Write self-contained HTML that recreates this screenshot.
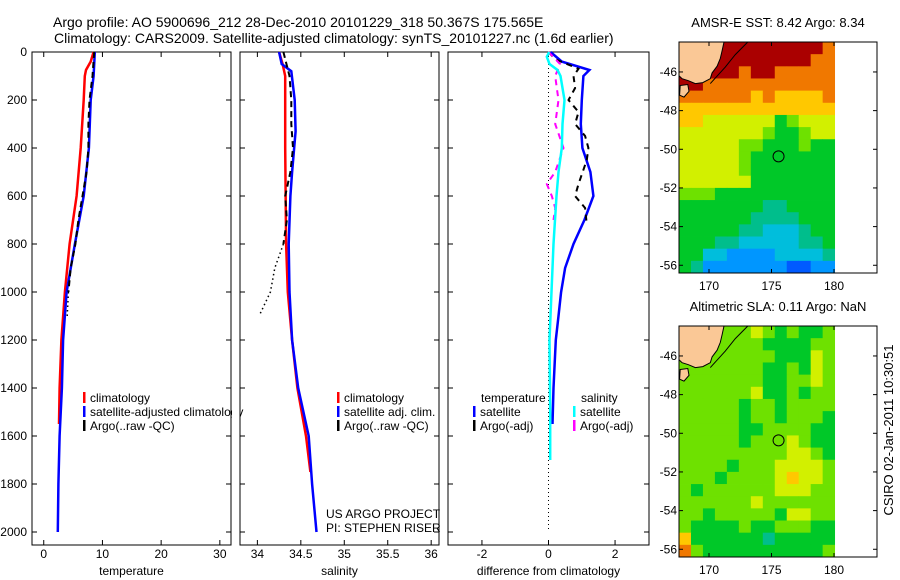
<!DOCTYPE html>
<html><head><meta charset="utf-8"><style>
html,body{margin:0;padding:0;background:#fff;}
svg{display:block;font-family:"Liberation Sans",sans-serif;}
text{fill:#000;}
</style></head><body>
<svg id="fig" width="900" height="580" viewBox="0 0 900 580" xmlns="http://www.w3.org/2000/svg">
<text x="53" y="27" font-size="14">Argo profile: AO 5900696_212 28-Dec-2010 20101229_318 50.367S 175.565E</text>
<text x="54" y="43" font-size="14">Climatology: CARS2009. Satellite-adjusted climatology: synTS_20101227.nc (1.6d earlier)</text>
<text x="893" y="430" font-size="13" text-anchor="middle" transform="rotate(-90 893 430)">CSIRO 02-Jan-2011 10:30:51</text>
</svg>
<script>
// ---------- DATA ----------
const depthTicks = [0,200,400,600,800,1000,1200,1400,1600,1800,2000];
const tempTicks = [0,10,20,30];
const salTicks = [34,34.5,35,35.5,36];
const salTickLabels = ["34","34.5","35","35.5","36"];
const diffTicks = [-2,0,2];
const tClimDepth = [0,40,75,100,200,400,600,800,1000,1200,1400,1550];
const tClimVal   = [8.5,8.0,7.2,7.0,6.8,6.3,5.6,4.4,3.6,3.0,2.7,2.6];
const tSatDepth = [0,100,200,400,600,800,1000,1200,1400,1600,1800,2000];
const tSatVal   = [8.7,8.5,8.0,7.7,6.8,5.3,3.9,3.3,3.1,2.7,2.5,2.4];
const tArgoDepth = [0,100,200,300,400,500,600,700,800,900,1000];
const tArgoVal   = [8.6,8.3,7.8,7.6,7.6,7.3,6.6,5.9,5.4,4.6,4.2];
const tArgoRawDepth = [1000,1050,1100];
const tArgoRawVal   = [4.2,4.1,4.0];
const sClimDepth = [0,50,100,400,800,1000,1200,1400,1600,1750];
const sClimVal   = [34.25,34.29,34.32,34.32,34.33,34.35,34.4,34.46,34.56,34.61];
const sSatDepth = [0,50,80,200,330,500,600,800,1000,1200,1400,1600,1800,2000];
const sSatVal   = [34.25,34.28,34.39,34.43,34.44,34.4,34.38,34.36,34.37,34.4,34.47,34.59,34.63,34.68];
const sArgoDepth = [0,100,200,300,400,500,600,700,800];
const sArgoVal   = [34.3,34.37,34.39,34.39,34.41,34.38,34.32,34.34,34.3];
const sArgoRawDepth = [800,900,1000,1100];
const sArgoRawVal   = [34.3,34.2,34.15,34.02];
const dTSatDepth = [0,40,75,100,200,300,400,500,600,700,800,900,1000,1100,1200,1400,1550];
const dTSatVal   = [0.06,0.4,1.23,1.05,1.0,0.97,1.02,1.26,1.35,1.08,0.75,0.5,0.38,0.3,0.22,0.15,0.12];
const dSSatDepth = [0,20,50,75,100,200,300,400,500,600,800,1000,1200,1500,1700];
const dSSatVal   = [0.02,-0.05,0.03,0.27,0.36,0.48,0.42,0.4,0.3,0.24,0.15,0.09,0.03,0.05,0.05];
const dTArgoDepth = [0,30,70,100,150,200,250,300,350,400,450,550,600,650,720];
const dTArgoVal   = [0,0.2,0.9,0.75,0.8,0.6,0.9,0.8,1.1,1.2,1.15,0.9,0.8,1.1,1.15];
const dSArgoDepth = [0,50,100,150,200,300,400,500,550,600,650,700];
const dSArgoVal   = [0,0.35,0.2,0.25,0.3,0.2,0.45,0.2,-0.05,0.1,0.2,0.15];
const mapLonTicks = [170,175,180];
const mapLatTicks = [-46,-48,-50,-52,-54,-56];
const argoLon = 175.565;
const argoLat = -50.367;
const sstGrid = [
"9999999999998","9999999999988","9999989988888","9988888888888","8888887877778",
"7777777777777","7766666645666","6666666544566","6666655444544","6666654444444",
"6666654444444","6666664444444","5554444444444","4444444334444","4444443333444",
"4444433222344","4443322222334","4422111122223","4311111110011"];
const slaGrid = [
"5555556545445","5555555444455","5555555544465","5555555445465","5555555445565",
"5555556445455","5555545545555","5555545545554","5555544555544","5555545556544",
"5555555556654","5555455566665","5554555567665","5455555566655","5555556555555",
"5545555546655","5444454455544","7444444344444","8544444444445"];
const palette = ["#005aff","#0096ff","#00bedc","#00be8c","#00c828","#6ee100","#d2f000","#ffc800","#f07800","#aa0000"];
const landLonLat = [[167.6,-44.45],[171.2,-44.45],[171.05,-44.9],[170.9,-45.3],[170.65,-45.7],[170.25,-46.05],[170.1,-46.35],[169.5,-46.55],[168.9,-46.6],[168.35,-46.45],[167.85,-46.35],[167.6,-46.2]];
const islandLonLat = [[167.7,-46.7],[168.3,-46.65],[168.4,-47.0],[168.0,-47.3],[167.65,-47.2]];
const shelfLonLat = [[170.1,-46.6],[171.3,-45.75],[172.1,-45.1],[173.1,-44.45]];

// ---------- HELPERS ----------
const svg = document.getElementById('fig');
const NS = "http://www.w3.org/2000/svg";
function mk(tag, attrs, parent){ const e=document.createElementNS(NS,tag); for(const k in attrs) e.setAttribute(k,attrs[k]); (parent||svg).appendChild(e); return e; }
const Y0 = 52, YS = 0.24, BOT = 545;
function yD(d){ return Y0 + d*YS; }
const panels = [
 {x0:32,x1:231,vmin:-2,vmax:31.9,ticks:tempTicks,labels:tempTicks.map(String),xlabel:"temperature",name:"temperature-panel"},
 {x0:240,x1:439,vmin:33.8,vmax:36.09,ticks:salTicks,labels:salTickLabels,xlabel:"salinity",name:"salinity-panel"},
 {x0:448,x1:649,vmin:-3.02,vmax:3.02,ticks:diffTicks,labels:diffTicks.map(String),xlabel:"difference from climatology",name:"difference-panel"}
];
function xf(p,v){ return p.x0 + (v-p.vmin)/(p.vmax-p.vmin)*(p.x1-p.x0); }
function line(p, depths, vals, color, w, dash, name){
  const pts = depths.map((d,i)=>xf(p,vals[i]).toFixed(1)+","+yD(d).toFixed(1)).join(" ");
  const el = mk('polyline',{points:pts,fill:"none",stroke:color,"stroke-width":w,"stroke-dasharray":dash||"none"});
  
  
}

// ---------- PROFILE PANELS ----------
panels.forEach((p,pi)=>{
  const g = mk('g',{});
  
  
  const bg = mk('rect',{x:p.x0,y:Y0,width:p.x1-p.x0,height:BOT-Y0,fill:"#fff",stroke:"#000","stroke-width":1},g);
  
  
  depthTicks.forEach(d=>{
    mk('line',{x1:p.x0,x2:p.x0+5,y1:yD(d),y2:yD(d),stroke:"#000"},g);
    mk('line',{x1:p.x1-5,x2:p.x1,y1:yD(d),y2:yD(d),stroke:"#000"},g);
    if(pi===0){
      const t = mk('text',{x:27,y:yD(d)+4,"font-size":12,"text-anchor":"end"},g);
      t.textContent = d;
      
      
    }
  });
  p.ticks.forEach((v,i)=>{
    const x = xf(p,v);
    mk('line',{x1:x,x2:x,y1:Y0,y2:Y0+5,stroke:"#000"},g);
    mk('line',{x1:x,x2:x,y1:BOT-5,y2:BOT,stroke:"#000"},g);
    const t = mk('text',{x:x,y:558,"font-size":12,"text-anchor":"middle"},g);
    t.textContent = p.labels[i];
    
    
  });
  const xl = mk('text',{x:(p.x0+p.x1)/2,y:575,"font-size":12,"text-anchor":"middle"},g);
  xl.textContent = p.xlabel;
  
  
});
const P0=panels[0],P1=panels[1],P2=panels[2];
line(P0,tArgoRawDepth,tArgoRawVal,"#000",1.5,"1.5 3","temp-argo-raw-dotted");
line(P0,tClimDepth,tClimVal,"#f00",2.5,null,"temp-climatology-line");
line(P0,tSatDepth,tSatVal,"#00f",2.5,null,"temp-satellite-line");
line(P0,tArgoDepth,tArgoVal,"#000",2,"6 4","temp-argo-line");
line(P1,sArgoRawDepth,sArgoRawVal,"#000",1.5,"1.5 3","sal-argo-raw-dotted");
line(P1,sClimDepth,sClimVal,"#f00",2.5,null,"sal-climatology-line");
line(P1,sSatDepth,sSatVal,"#00f",2.5,null,"sal-satellite-line");
line(P1,sArgoDepth,sArgoVal,"#000",2,"6 4","sal-argo-line");
line(P2,[0,2000],[0,0],"#000",1,"1 3","zero-line");
line(P2,dTSatDepth,dTSatVal,"#00f",2.5,null,"diff-temp-satellite-line");
line(P2,dTArgoDepth,dTArgoVal,"#000",2,"6 5","diff-temp-argo-line");
line(P2,dSArgoDepth,dSArgoVal,"#f0f",2,"6 5","diff-sal-argo-line");
line(P2,dSSatDepth,dSSatVal,"#0ff",2.5,null,"diff-sal-satellite-line");

// legends
function legend(x,y,color,label,name){
  const g = mk('g',{});
  
  
  if(color) mk('rect',{x:x,y:y-6,width:2.5,height:11,fill:color},g);
  const t = mk('text',{x:x+7,y:y+4,"font-size":12},g);
  t.textContent = label;
}
legend(83,398,"#f00","climatology","legend-temp-climatology");
legend(83,412,"#00f","satellite-adjusted climatology","legend-temp-satellite");
legend(83,426,"#000","Argo(..raw -QC)","legend-temp-argo");
legend(337,398,"#f00","climatology","legend-sal-climatology");
legend(337,412,"#00f","satellite adj. clim.","legend-sal-satellite");
legend(337,426,"#000","Argo(..raw -QC)","legend-sal-argo");
legend(474,398,null,"temperature","legend-diff-temperature-header");
legend(473,412,"#00f","satellite","legend-diff-temp-satellite");
legend(473,426,"#000","Argo(-adj)","legend-diff-temp-argo");
legend(574,398,null,"salinity","legend-diff-salinity-header");
legend(573,412,"#0ff","satellite","legend-diff-sal-satellite");
legend(573,426,"#f0f","Argo(-adj)","legend-diff-sal-argo");
(function(){
  const r = mk('rect',{x:232,y:390,width:7.5,height:40,fill:"#fff"});
  
  
  const e = mk('line',{x1:240,x2:240,y1:Y0,y2:BOT,stroke:"#000"});
  
  
})();
function credit(y,s){ const t=mk('text',{x:326,y:y,"font-size":12}); t.textContent=s;
    }
credit(518,"US ARGO PROJECT");
credit(532,"PI: STEPHEN RISER");

// ---------- MAPS ----------
function drawMap(top, grid, title, name){
  const M = {x0:679,x1:877,top:top,bot:top+231,lon0:167.6,lon1:183.44,lat0:-44.45,lat1:-56.4};
  const lx = lon=>M.x0+(lon-M.lon0)/(M.lon1-M.lon0)*(M.x1-M.x0);
  const ly = lat=>M.top+(lat-M.lat0)/(M.lat1-M.lat0)*(M.bot-M.top);
  const g = mk('g',{});
  
  
  const box = mk('rect',{x:M.x0,y:M.top,width:M.x1-M.x0,height:231,fill:"#fff"},g);
  
  
  const rows = grid.length, cols = grid[0].length;
  const dlon = (180.05-M.lon0)/cols, dlat = (M.lat1-M.lat0)/rows;
  grid.forEach((row,r)=>{
    for(let c=0;c<cols;c++){
      const xa=lx(M.lon0+c*dlon), xb=lx(M.lon0+(c+1)*dlon);
      const ya=ly(M.lat0+r*dlat), yb=ly(M.lat0+(r+1)*dlat);
      const cell = mk('rect',{x:xa.toFixed(2),y:ya.toFixed(2),width:(xb-xa+0.4).toFixed(2),height:(yb-ya+0.4).toFixed(2),fill:palette[+row[c]]},g);
      
      
    }
  });
  const poly = a=>a.map(p=>lx(p[0]).toFixed(1)+","+ly(p[1]).toFixed(1)).join(" ");
  const land = mk('polygon',{points:poly(landLonLat),fill:"#fac896",stroke:"#000","stroke-width":1},g);
  
  
  const isl = mk('polygon',{points:poly(islandLonLat),fill:"#fac896",stroke:"#000","stroke-width":1},g);
  
  
  const sh = mk('polyline',{points:poly(shelfLonLat),fill:"none",stroke:"#000","stroke-width":1},g);
  
  
  const fr = mk('rect',{x:M.x0,y:M.top,width:M.x1-M.x0,height:231,fill:"none",stroke:"#000"},g);
  
  
  mapLonTicks.forEach(lon=>{
    const x=lx(lon);
    mk('line',{x1:x,x2:x,y1:M.top,y2:M.top+4,stroke:"#000"},g);
    mk('line',{x1:x,x2:x,y1:M.bot-4,y2:M.bot,stroke:"#000"},g);
    const t=mk('text',{x:x,y:M.bot+17,"font-size":12,"text-anchor":"middle"},g);
    t.textContent=lon;
    
    
  });
  mapLatTicks.forEach(lat=>{
    const y=ly(lat);
    mk('line',{x1:M.x0,x2:M.x0+4,y1:y,y2:y,stroke:"#000"},g);
    mk('line',{x1:M.x1-4,x2:M.x1,y1:y,y2:y,stroke:"#000"},g);
    const t=mk('text',{x:677,y:y+4,"font-size":12,"text-anchor":"end"},g);
    t.textContent=lat;
    
    
  });
  const c = mk('circle',{cx:lx(argoLon),cy:ly(argoLat),r:5.5,fill:"none",stroke:"#000","stroke-width":1},g);
  
  
  const t = mk('text',{x:778,y:top-15,"font-size":13,"text-anchor":"middle"},g);
  t.textContent = title;
  
  
}
drawMap(42, sstGrid, "AMSR-E SST: 8.42 Argo: 8.34", "sst-map");
drawMap(326, slaGrid, "Altimetric SLA: 0.11 Argo: NaN", "sla-map");
</script>
</body></html>
